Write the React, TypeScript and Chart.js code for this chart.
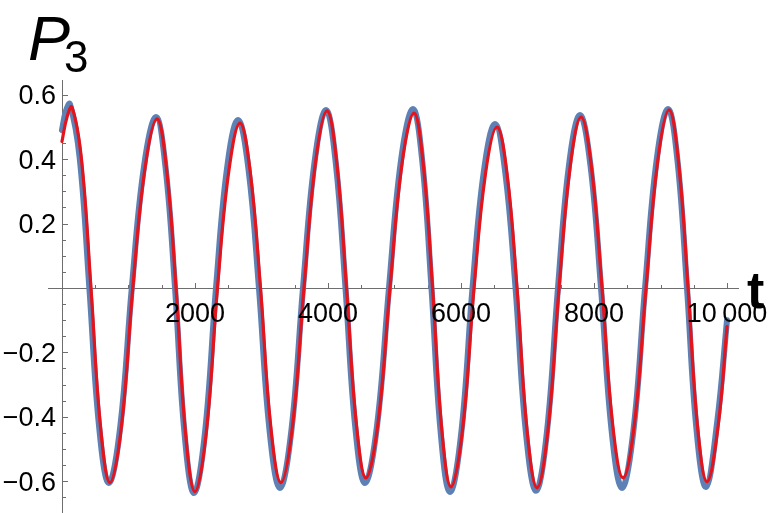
import React, { useEffect, useRef } from "react";
import { Chart, registerables } from "chart.js";

Chart.register(...registerables);

// Blue series (thick) — time and value
const blueT = [0, 60, 120, 266, 412, 558, 705, 877, 1050, 1232, 1414, 1557, 1700, 1842, 1985, 2150, 2316, 2481, 2647, 2804, 2962, 3120, 3278, 3451, 3624, 3797, 3970, 4116, 4263, 4409, 4556, 4736, 4917, 5097, 5278, 5417, 5556, 5695, 5835, 6004, 6173, 6342, 6511, 6665, 6820, 6974, 7128, 7293, 7458, 7623, 7789, 7947, 8105, 8263, 8421, 8594, 8767, 8940, 9113, 9255, 9398, 9541, 9684, 9850, 10000];
const blueV = [0.49, 0.55, 0.571, 0.405, 0, -0.43, -0.606, -0.43, 0, 0.375, 0.531, 0.375, 0, -0.45, -0.637, -0.45, 0, 0.37, 0.522, 0.37, 0, -0.44, -0.621, -0.44, 0, 0.39, 0.553, 0.39, 0, -0.43, -0.606, -0.43, 0, 0.395, 0.556, 0.395, 0, -0.45, -0.634, -0.45, 0, 0.36, 0.509, 0.36, 0, -0.445, -0.63, -0.445, 0, 0.38, 0.537, 0.38, 0, -0.44, -0.621, -0.44, 0, 0.395, 0.556, 0.395, 0, -0.44, -0.618, -0.42, -0.1];

// Red series (thin) — time and value
const redT = [0, 75, 150, 293, 436, 579, 722, 894, 1065, 1247, 1429, 1572, 1715, 1857, 2000, 2169, 2338, 2507, 2677, 2831, 2985, 3139, 3293, 3466, 3639, 3812, 3985, 4131, 4278, 4425, 4571, 4752, 4932, 5112, 5293, 5432, 5572, 5711, 5850, 6023, 6196, 6368, 6541, 6692, 6842, 6992, 7143, 7308, 7474, 7640, 7805, 7962, 8120, 8278, 8436, 8609, 8782, 8955, 9128, 9271, 9414, 9556, 9699, 9865, 10000];
const redV = [0.455, 0.53, 0.562, 0.4, 0, -0.43, -0.605, -0.43, 0, 0.37, 0.525, 0.37, 0, -0.45, -0.633, -0.45, 0, 0.36, 0.512, 0.36, 0, -0.43, -0.605, -0.43, 0, 0.39, 0.55, 0.39, 0, -0.42, -0.59, -0.42, 0, 0.385, 0.543, 0.385, 0, -0.44, -0.618, -0.44, 0, 0.355, 0.5, 0.355, 0, -0.44, -0.621, -0.44, 0, 0.375, 0.531, 0.375, 0, -0.42, -0.59, -0.42, 0, 0.39, 0.553, 0.39, 0, -0.43, -0.602, -0.43, -0.12];

const xTickValues = [2000, 4000, 6000, 8000, 10000];
const xTickLabels = ["2000", "4000", "6000", "8000", "10\u2009000"];
const yTickValues = [0.6, 0.4, 0.2, -0.2, -0.4, -0.6];
const yTickLabels = ["0.6", "0.4", "0.2", "\u22120.2", "\u22120.4", "\u22120.6"];

const FONT = '"Liberation Sans", Arial, Helvetica, sans-serif';

const axesPlugin = {
  id: "mathAxes",
  beforeDatasetsDraw(chart: any) {
    const { ctx, chartArea, scales } = chart;
    const xs = scales.x;
    const ys = scales.y;
    const x0 = xs.getPixelForValue(0);
    const y0 = ys.getPixelForValue(0);
    ctx.save();
    ctx.strokeStyle = "#6e6e6e";
    ctx.lineWidth = 1;
    ctx.beginPath();
    ctx.moveTo(chartArea.left, Math.round(y0) + 0.5);
    ctx.lineTo(chartArea.right, Math.round(y0) + 0.5);
    ctx.moveTo(Math.round(x0) + 0.5, chartArea.top);
    ctx.lineTo(Math.round(x0) + 0.5, chartArea.bottom);
    for (let v = 500; v <= 10000; v += 500) {
      const px = Math.round(xs.getPixelForValue(v)) + 0.5;
      const len = v % 2000 === 0 ? 5 : 3;
      ctx.moveTo(px, Math.round(y0));
      ctx.lineTo(px, Math.round(y0) - len);
    }
    for (let k = -13; k <= 12; k++) {
      if (k === 0) continue;
      const v = k * 0.05;
      const py = Math.round(ys.getPixelForValue(v)) + 0.5;
      const len = k % 4 === 0 ? 5 : 3;
      ctx.moveTo(Math.round(x0) + 1, py);
      ctx.lineTo(Math.round(x0) + 1 + len, py);
    }
    ctx.stroke();
    ctx.restore();
  },
  afterDraw(chart: any) {
    const { ctx, scales } = chart;
    const xs = scales.x;
    const ys = scales.y;
    ctx.save();
    ctx.fillStyle = "#000";
    ctx.font = `27px ${FONT}`;
    ctx.textAlign = "center";
    ctx.textBaseline = "alphabetic";
    xTickValues.forEach((v, i) => {
      ctx.fillText(xTickLabels[i], xs.getPixelForValue(v), 322);
    });
    ctx.textAlign = "right";
    yTickValues.forEach((v, i) => {
      ctx.fillText(yTickLabels[i], 56, ys.getPixelForValue(v) + 9.5);
    });
    ctx.textAlign = "left";
    ctx.font = `italic 63px ${FONT}`;
    ctx.fillText("P", 28, 60);
    ctx.font = `44px ${FONT}`;
    ctx.fillText("3", 64, 72);
    ctx.font = `bold 52px ${FONT}`;
    ctx.fillText("t", 747, 308);
    ctx.restore();
  },
};

export default function App() {
  const ref = useRef<HTMLCanvasElement | null>(null);
  useEffect(() => {
    if (!ref.current) return;
    const chart = new Chart(ref.current, {
      type: "line",
      data: {
        datasets: [
          {
            label: "red",
            data: redT.map((t, i) => ({ x: t, y: redV[i] })),
            borderColor: "#e3141c",
            borderWidth: 3.2,
            pointRadius: 0,
            tension: 0.4,
            borderJoinStyle: "round",
            borderCapStyle: "round",
            fill: false,
            order: 1,
          },
          {
            label: "blue",
            data: blueT.map((t, i) => ({ x: t, y: blueV[i] })),
            borderColor: "#5e81b5",
            borderWidth: 6,
            pointRadius: 0,
            tension: 0.4,
            borderJoinStyle: "round",
            borderCapStyle: "round",
            fill: false,
            order: 2,
          },
        ],
      },
      options: {
        responsive: false,
        maintainAspectRatio: false,
        animation: false,
        layout: { padding: { left: 48, right: 29, top: 80, bottom: 0 } },
        plugins: { legend: { display: false }, tooltip: { enabled: false } },
        scales: {
          x: { type: "linear", min: -210, max: 10180, display: false },
          y: { type: "linear", min: -0.699, max: 0.646, display: false },
        },
      },
      plugins: [axesPlugin],
    } as any);
    return () => chart.destroy();
  }, []);
  return (
    <div style={{ position: "fixed", left: 0, top: 0, width: 768, height: 513, background: "#fff" }}>
      <canvas ref={ref} width={768} height={513} style={{ display: "block" }} />
    </div>
  );
}
